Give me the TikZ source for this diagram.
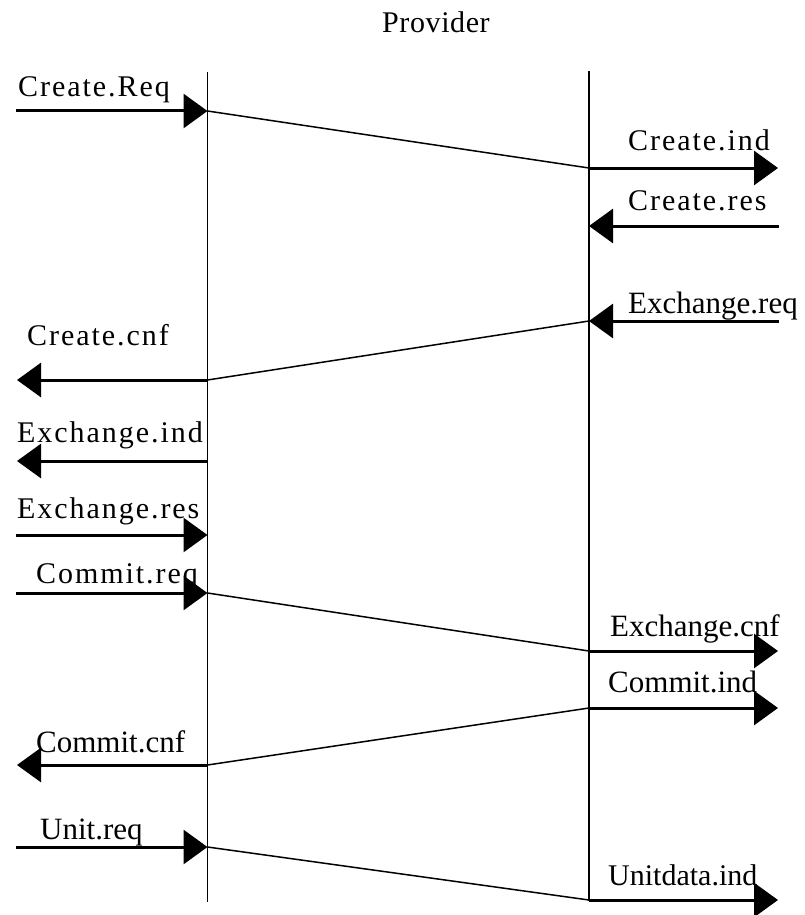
\documentclass[tikz,border=0pt]{standalone}
\usepackage{fontspec}
\setmainfont{Liberation Serif}
\newfontfamily\lspaced[LetterSpace=6.5]{Liberation Serif}
\newfontfamily\lspacedsmall[LetterSpace=2]{Liberation Serif}
\usetikzlibrary{arrows.meta}
\begin{document}
\begin{tikzpicture}[x=1pt,y=-1pt,
  lifeline/.style={line width=1.5pt},
  hop/.style={line width=1.5pt},
  msg/.style={line width=3pt,-{Triangle[length=24pt,width=34pt]}},
  lbl/.style={anchor=base west,inner sep=0pt,font=\fontsize{30}{36}\selectfont},
  lbltall/.style={lbl,font=\fontsize{31}{37}\selectfont}]
\useasboundingbox (0,0) rectangle (804,915);
% lifelines
\coordinate (Ltop) at (207.5,72);
\coordinate (Lbot) at (207.5,902);
\coordinate (Rtop) at (589,71);
\coordinate (Rbot) at (589,901);
\draw[lifeline] (Ltop) -- (Lbot);
\draw[lifeline] (Rtop) -- (Rbot);
% event points on lifelines
\coordinate (L1) at (207.5,111);
\coordinate (R1) at (589,168);
\coordinate (R2) at (589,226);
\coordinate (R3) at (589,321);
\coordinate (L3) at (207.5,380);
\coordinate (L4) at (207.5,461);
\coordinate (L5) at (207.5,535);
\coordinate (L6) at (207.5,593);
\coordinate (R6) at (589,651);
\coordinate (R7) at (589,708);
\coordinate (L7) at (207.5,765);
\coordinate (L8) at (207.5,847);
\coordinate (R8) at (589,900);
% free ends
\coordinate (a1) at (16,111);
\coordinate (b1) at (778,168);
\coordinate (b2) at (779,226);
\coordinate (b3) at (779,321);
\coordinate (a3) at (17,380);
\coordinate (a4) at (17,461);
\coordinate (a5) at (16,535);
\coordinate (a6) at (16,593);
\coordinate (b6) at (778,651);
\coordinate (b7) at (778,708);
\coordinate (a7) at (17,765);
\coordinate (a8) at (16,847);
\coordinate (b8) at (778,900);
% crossing lines through the provider
\draw[hop] (L1) -- (R1);
\draw[hop] (R3) -- (L3);
\draw[hop] (L6) -- (R6);
\draw[hop] (R7) -- (L7);
\draw[hop] (L8) -- (R8);
% primitives
\draw[msg] (a1) -- (L1);
\draw[msg] (R1) -- (b1);
\draw[msg] (b2) -- (R2);
\draw[msg] (b3) -- (R3);
\draw[msg] (L3) -- (a3);
\draw[msg] (L4) -- (a4);
\draw[msg] (a5) -- (L5);
\draw[msg] (a6) -- (L6);
\draw[msg] (R6) -- (b6);
\draw[msg] (R7) -- (b7);
\draw[msg] (L7) -- (a7);
\draw[msg] (a8) -- (L8);
\draw[msg] (R8) -- (b8);
% labels
\node[lbl,anchor=base] (prov) at (436,33) {\lspacedsmall Provider};
\node[lbl] (t1) at (18,97) {\lspaced Create.Req};
\node[lbl] (t2) at (628,150) {\lspaced Create.ind};
\node[lbl] (t3) at (628,210) {\lspaced Create.res};
\node[lbltall] (t4) at (628,313) {Exchange.req};
\node[lbl] (t5) at (27,345) {\lspaced Create.cnf};
\node[lbl] (t6) at (17,442) {\lspaced Exchange.ind};
\node[lbl] (t7) at (17,518) {\lspaced Exchange.res};
\node[lbl] (t8) at (36,583) {\lspaced Commit.req};
\node[lbltall] (t9) at (610,636) {Exchange.cnf};
\node[lbltall] (t10) at (608,692) {Commit.ind};
\node[lbltall] (t11) at (36,752) {Commit.cnf};
\node[lbltall] (t12) at (40,839) {Unit.req};
\node[lbl] (t13) at (608,885) {Unitdata.ind};
\end{tikzpicture}
\end{document}
